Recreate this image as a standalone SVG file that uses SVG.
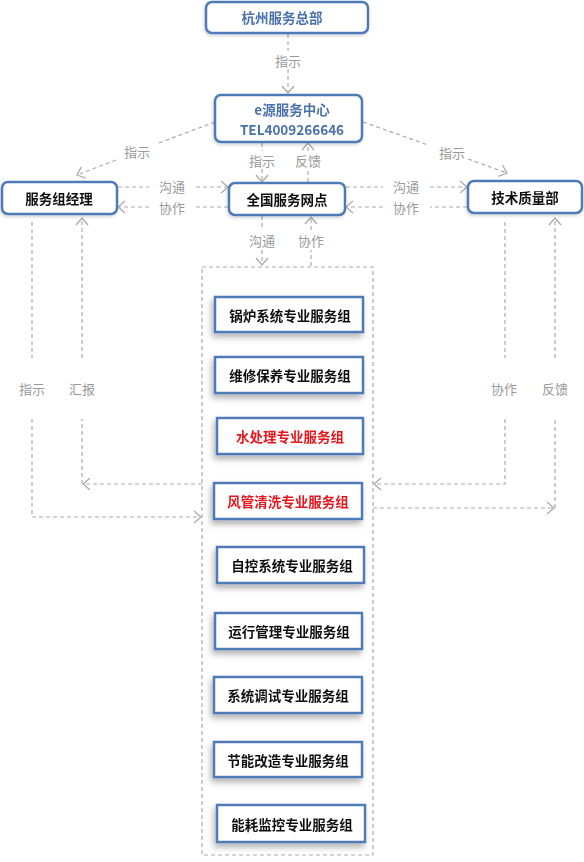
<svg xmlns="http://www.w3.org/2000/svg" width="584" height="862" viewBox="0 0 584 862">
<style>
.bx{fill:#fff;stroke:#4f7ab8;stroke-width:2.5}
.t{font-family:"Noto Sans CJK SC","Liberation Sans",sans-serif;font-size:13.5px;font-weight:bold;text-anchor:middle;dominant-baseline:central;fill:#111}
.tb{fill:#4a72ad}
.tr{fill:#e8161e}
.lb{font-family:"Noto Sans CJK SC","Liberation Sans",sans-serif;font-size:13px;text-anchor:middle;dominant-baseline:central;fill:#9a9a9a}
.c{fill:none;stroke:#ababab;stroke-width:1.2;stroke-dasharray:4 3}
</style>
<defs>
<marker id="a" markerUnits="userSpaceOnUse" markerWidth="12" markerHeight="14" refX="8" refY="7" orient="auto">
<path d="M1,1 L8,7 L1,13" fill="none" stroke="#ababab" stroke-width="1.3"/>
</marker>
<filter id="sh" x="-20%" y="-30%" width="140%" height="180%">
<feDropShadow dx="-2" dy="4" stdDeviation="3" flood-color="#000" flood-opacity="0.3"/>
</filter>
<filter id="sh2" x="-20%" y="-30%" width="140%" height="180%">
<feDropShadow dx="-1" dy="2" stdDeviation="1.5" flood-color="#000" flood-opacity="0.15"/>
</filter>
</defs>
<rect width="584" height="862" fill="#fff"/>

<g id="container">
<rect x="202" y="267" width="171" height="588" fill="none" stroke="#ababab" stroke-width="1.2" stroke-dasharray="4 3"/>
</g>

<g id="connectors">
<path class="c" d="M288,34 V51"/>
<path class="c" d="M288,69 V93" marker-end="url(#a)"/>
<path class="c" d="M215,122 L156,144"/>
<path class="c" d="M116,160 L77,175" marker-end="url(#a)"/>
<path class="c" d="M363,122 L428,145"/>
<path class="c" d="M468,159 L507,173" marker-end="url(#a)"/>
<path class="c" d="M262,143 V151"/>
<path class="c" d="M262,169 V182" marker-end="url(#a)"/>
<path class="c" d="M308,182 V169"/>
<path class="c" d="M308,151 V143" marker-end="url(#a)"/>
<path class="c" d="M118,187 H149"/>
<path class="c" d="M196,187 H228" marker-end="url(#a)"/>
<path class="c" d="M228,207 H196"/>
<path class="c" d="M149,207 H118" marker-end="url(#a)"/>
<path class="c" d="M346,187 H383"/>
<path class="c" d="M430,187 H467" marker-end="url(#a)"/>
<path class="c" d="M467,207 H430"/>
<path class="c" d="M383,207 H346" marker-end="url(#a)"/>
<path class="c" d="M262,216 V230"/>
<path class="c" d="M262,250 V265" marker-end="url(#a)"/>
<path class="c" d="M311,266 V250"/>
<path class="c" d="M311,230 V217" marker-end="url(#a)"/>
<path class="c" d="M32,222 V358"/>
<path class="c" d="M32,419 V517 H201" marker-end="url(#a)"/>
<path class="c" d="M202,484 H83" marker-end="url(#a)"/>
<path class="c" d="M82,484 V419"/>
<path class="c" d="M82,358 V218" marker-end="url(#a)"/>
<path class="c" d="M505,222 V358"/>
<path class="c" d="M505,419 V484 H374" marker-end="url(#a)"/>
<path class="c" d="M373,508 H554" marker-end="url(#a)"/>
<path class="c" d="M555,508 V419"/>
<path class="c" d="M555,358 V218" marker-end="url(#a)"/>
<text class="lb" x="288" y="60">指示</text>
<text class="lb" x="137" y="151">指示</text>
<text class="lb" x="452" y="152">指示</text>
<text class="lb" x="262" y="160">指示</text>
<text class="lb" x="308" y="160">反馈</text>
<text class="lb" x="172" y="186">沟通</text>
<text class="lb" x="172" y="207">协作</text>
<text class="lb" x="406" y="186">沟通</text>
<text class="lb" x="406" y="207">协作</text>
<text class="lb" x="262" y="240">沟通</text>
<text class="lb" x="311" y="240">协作</text>
<text class="lb" x="32" y="388">指示</text>
<text class="lb" x="82" y="388">汇报</text>
<text class="lb" x="504" y="388">协作</text>
<text class="lb" x="555" y="388">反馈</text>
</g>

<g id="hq" filter="url(#sh2)"><rect class="bx" x="206" y="2" width="162" height="31" rx="6"/><text class="t tb" x="282" y="17">杭州服务总部</text></g>
<g id="center" filter="url(#sh2)"><rect class="bx" x="215" y="95" width="147" height="47" rx="6"/><text class="t tb" x="292" y="109">e源服务中心</text><text class="t tb" x="292" y="129">TEL4009266646</text></g>
<g id="manager" filter="url(#sh2)"><rect class="bx" x="2" y="182" width="115" height="32" rx="6"/><text class="t" x="59" y="198">服务组经理</text></g>
<g id="network" filter="url(#sh2)"><rect class="bx" x="229" y="183" width="116" height="32" rx="6"/><text class="t" x="287" y="199">全国服务网点</text></g>
<g id="quality" filter="url(#sh2)"><rect class="bx" x="468" y="181" width="114" height="32" rx="6"/><text class="t" x="525" y="197">技术质量部</text></g>

<g id="g1" filter="url(#sh)"><rect class="bx" x="215" y="297" width="148" height="35"/><text class="t" x="290" y="315">锅炉系统专业服务组</text></g>
<g id="g2" filter="url(#sh)"><rect class="bx" x="215" y="357" width="148" height="36"/><text class="t" x="290" y="375">维修保养专业服务组</text></g>
<g id="g3" filter="url(#sh)"><rect class="bx" x="217" y="418" width="146" height="36"/><text class="t tr" x="290" y="436">水处理专业服务组</text></g>
<g id="g4" filter="url(#sh)"><rect class="bx" x="214" y="483" width="148" height="36"/><text class="t tr" x="288" y="501">风管清洗专业服务组</text></g>
<g id="g5" filter="url(#sh)"><rect class="bx" x="217" y="547" width="147" height="36"/><text class="t" x="292" y="565">自控系统专业服务组</text></g>
<g id="g6" filter="url(#sh)"><rect class="bx" x="215" y="613" width="147" height="36"/><text class="t" x="289" y="631">运行管理专业服务组</text></g>
<g id="g7" filter="url(#sh)"><rect class="bx" x="214" y="677" width="148" height="36"/><text class="t" x="288" y="695">系统调试专业服务组</text></g>
<g id="g8" filter="url(#sh)"><rect class="bx" x="214" y="742" width="148" height="35"/><text class="t" x="288" y="760">节能改造专业服务组</text></g>
<g id="g9" filter="url(#sh)"><rect class="bx" x="217" y="805" width="148" height="37"/><text class="t" x="292" y="824">能耗监控专业服务组</text></g>
</svg>
